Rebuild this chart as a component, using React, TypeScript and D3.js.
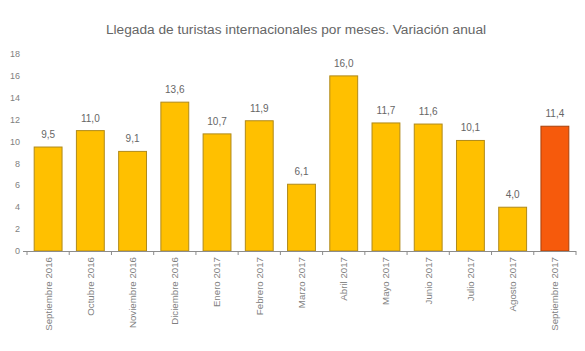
import { useEffect, useRef } from "react"
import * as d3 from "d3"

const months = [
  "Septiembre 2016",
  "Octubre 2016",
  "Noviembre 2016",
  "Diciembre 2016",
  "Enero 2017",
  "Febrero 2017",
  "Marzo 2017",
  "Abril 2017",
  "Mayo 2017",
  "Junio 2017",
  "Julio 2017",
  "Agosto 2017",
  "Septiembre 2017",
]
const variation = [9.5, 11.0, 9.1, 13.6, 10.7, 11.9, 6.1, 16.0, 11.7, 11.6, 10.1, 4.0, 11.4]
const yTicks = [0, 2, 4, 6, 8, 10, 12, 14, 16, 18]
const title = "Llegada de turistas internacionales por meses. Variación anual"

export default function App() {
  const svgRef = useRef<SVGSVGElement>(null)

  useEffect(() => {
    if (!svgRef.current) return
    const width = 585
    const height = 351
    const font = "'Liberation Sans', Arial, sans-serif"
    const grey = "#7f7f7f"

    const svg = d3.select(svgRef.current).attr("width", width).attr("height", height)
    svg.selectAll("*").remove()

    svg.append("rect").attr("width", width).attr("height", height).attr("fill", "#fff")

    const x = d3.scaleBand().domain(months).range([27, 576]).paddingInner(0.34).paddingOuter(0.17)
    const y = d3.scaleLinear().domain([0, 18]).range([251, 54])

    svg
      .append("text")
      .attr("x", 296)
      .attr("y", 34)
      .attr("text-anchor", "middle")
      .attr("font-family", font)
      .attr("font-size", 13.7)
      .attr("fill", "#666")
      .text(title)

    // y labels, no axis line
    svg
      .append("g")
      .selectAll("text")
      .data(yTicks)
      .enter()
      .append("text")
      .attr("x", 20)
      .attr("y", (d) => y(d))
      .attr("dy", "0.35em")
      .attr("text-anchor", "end")
      .attr("font-family", font)
      .attr("font-size", 9)
      .attr("fill", grey)
      .text((d) => d)

    svg
      .append("g")
      .selectAll("rect")
      .data(variation)
      .enter()
      .append("rect")
      .attr("x", (d, i) => x(months[i]) || 0)
      .attr("y", (d) => y(d))
      .attr("width", x.bandwidth())
      .attr("height", (d) => y(0) - y(d))
      .attr("fill", (d, i) => (i === months.length - 1 ? "#f65a0c" : "#ffc000"))
      .attr("stroke", (d, i) => (i === months.length - 1 ? "#a8400a" : "#b08a1a"))
      .attr("stroke-width", 1)

    svg
      .append("g")
      .selectAll("text")
      .data(variation)
      .enter()
      .append("text")
      .attr("x", (d, i) => (x(months[i]) || 0) + x.bandwidth() / 2)
      .attr("y", (d) => y(d) - 9)
      .attr("text-anchor", "middle")
      .attr("font-family", font)
      .attr("font-size", 10)
      .attr("fill", "#666")
      .text((d) => d.toFixed(1).replace(".", ","))

    // x axis with ticks at category boundaries
    const axis = svg.append("g")
    axis
      .append("line")
      .attr("x1", 23)
      .attr("x2", 576)
      .attr("y1", y(0) + 0.5)
      .attr("y2", y(0) + 0.5)
      .attr("stroke", "#8c8c8c")
    const step = x.step()
    const boundaries = d3.range(months.length + 1).map((i) => 27 + i * step)
    axis
      .selectAll("line.tick")
      .data(boundaries)
      .enter()
      .append("line")
      .attr("class", "tick")
      .attr("x1", (d) => d)
      .attr("x2", (d) => d)
      .attr("y1", y(0))
      .attr("y2", y(0) + 4)
      .attr("stroke", "#8c8c8c")

    axis
      .selectAll("text")
      .data(months)
      .enter()
      .append("text")
      .attr("transform", (d) => `translate(${(x(d) || 0) + x.bandwidth() / 2},257) rotate(-90)`)
      .attr("dy", "0.35em")
      .attr("text-anchor", "end")
      .attr("font-family", font)
      .attr("font-size", 9.7)
      .attr("fill", grey)
      .text((d) => d)
  }, [])

  return <svg ref={svgRef} style={{ position: "absolute", left: 0, top: 0, display: "block" }} />
}
